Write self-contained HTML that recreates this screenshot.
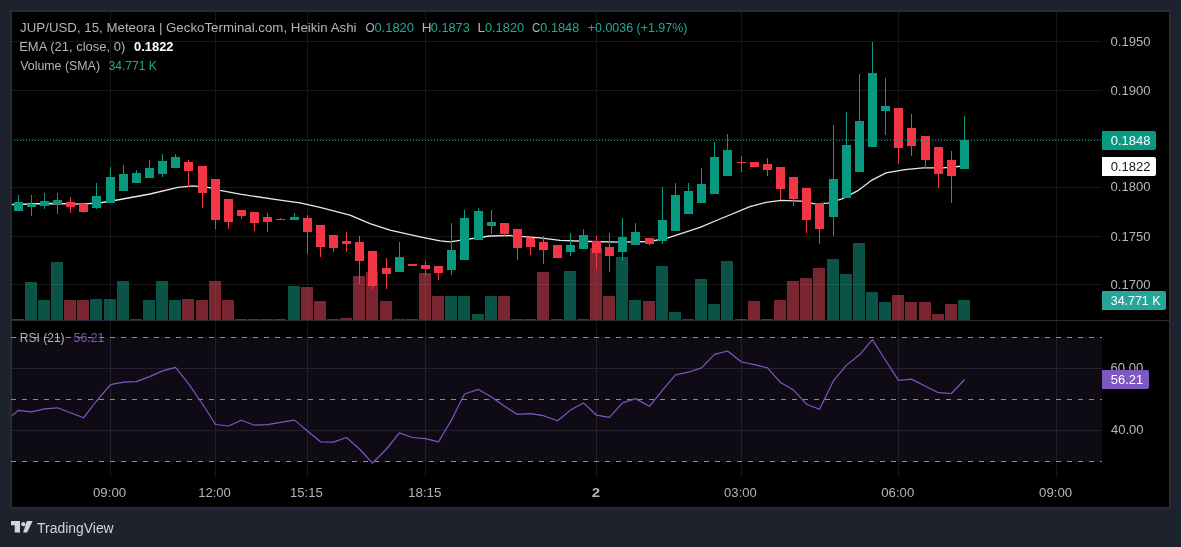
<!DOCTYPE html><html><head><meta charset="utf-8"><style>
html,body{margin:0;padding:0;background:#1e222d;width:1181px;height:547px;overflow:hidden}
svg{display:block;will-change:transform}
text{font-family:"Liberation Sans",sans-serif}
</style></head><body>
<svg width="1181" height="547" viewBox="0 0 1181 547">
<rect x="0" y="0" width="1181" height="547" fill="#1e222d"/>
<rect x="10" y="10" width="1161" height="499" fill="#252933" shape-rendering="crispEdges"/>
<rect x="11" y="11" width="1159" height="497" fill="#2a2e39" shape-rendering="crispEdges"/>
<rect x="12" y="12" width="1157" height="495" fill="#000000" shape-rendering="crispEdges"/>
<g shape-rendering="crispEdges">
<rect x="12" y="337" width="1090" height="125" fill="#0e0b15"/>
<rect x="12" y="41" width="1090" height="1" fill="#171717"/>
<rect x="12" y="90" width="1090" height="1" fill="#171717"/>
<rect x="12" y="139" width="1090" height="1" fill="#171717"/>
<rect x="12" y="187" width="1090" height="1" fill="#171717"/>
<rect x="12" y="236" width="1090" height="1" fill="#171717"/>
<rect x="12" y="284" width="1090" height="1" fill="#171717"/>
<rect x="12" y="368" width="1090" height="1" fill="#24212c"/>
<rect x="12" y="430" width="1090" height="1" fill="#24212c"/>
<rect x="110" y="12" width="1" height="325" fill="#171717"/>
<rect x="110" y="337" width="1" height="125" fill="#24212c"/>
<rect x="110" y="462" width="1" height="15" fill="#171717"/>
<rect x="215" y="12" width="1" height="325" fill="#171717"/>
<rect x="215" y="337" width="1" height="125" fill="#24212c"/>
<rect x="215" y="462" width="1" height="15" fill="#171717"/>
<rect x="307" y="12" width="1" height="325" fill="#171717"/>
<rect x="307" y="337" width="1" height="125" fill="#24212c"/>
<rect x="307" y="462" width="1" height="15" fill="#171717"/>
<rect x="425" y="12" width="1" height="325" fill="#171717"/>
<rect x="425" y="337" width="1" height="125" fill="#24212c"/>
<rect x="425" y="462" width="1" height="15" fill="#171717"/>
<rect x="596" y="12" width="1" height="325" fill="#171717"/>
<rect x="596" y="337" width="1" height="125" fill="#24212c"/>
<rect x="596" y="462" width="1" height="15" fill="#171717"/>
<rect x="741" y="12" width="1" height="325" fill="#171717"/>
<rect x="741" y="337" width="1" height="125" fill="#24212c"/>
<rect x="741" y="462" width="1" height="15" fill="#171717"/>
<rect x="898" y="12" width="1" height="325" fill="#171717"/>
<rect x="898" y="337" width="1" height="125" fill="#24212c"/>
<rect x="898" y="462" width="1" height="15" fill="#171717"/>
<rect x="1056" y="12" width="1" height="325" fill="#171717"/>
<rect x="1056" y="337" width="1" height="125" fill="#24212c"/>
<rect x="1056" y="462" width="1" height="15" fill="#171717"/>
<rect x="12" y="320" width="1157" height="1" fill="#2a2e39"/>
<line x1="11" y1="337.5" x2="1102" y2="337.5" stroke="#8a8d96" stroke-width="1" stroke-dasharray="5 6"/>
<line x1="11" y1="399.5" x2="1102" y2="399.5" stroke="#8a8d96" stroke-width="1" stroke-dasharray="5 6"/>
<line x1="11" y1="461.5" x2="1102" y2="461.5" stroke="#8a8d96" stroke-width="1" stroke-dasharray="5 6"/>
<rect x="12" y="319" width="12" height="1" fill="#16a68e" fill-opacity="0.5"/>
<rect x="25" y="282" width="12" height="38" fill="#16a68e" fill-opacity="0.5"/>
<rect x="38" y="300" width="12" height="20" fill="#16a68e" fill-opacity="0.5"/>
<rect x="51" y="262" width="12" height="58" fill="#16a68e" fill-opacity="0.5"/>
<rect x="64" y="300" width="12" height="20" fill="#f44c60" fill-opacity="0.5"/>
<rect x="77" y="300" width="12" height="20" fill="#f44c60" fill-opacity="0.5"/>
<rect x="90" y="299" width="12" height="21" fill="#16a68e" fill-opacity="0.5"/>
<rect x="104" y="299" width="12" height="21" fill="#16a68e" fill-opacity="0.5"/>
<rect x="117" y="281" width="12" height="39" fill="#16a68e" fill-opacity="0.5"/>
<rect x="130" y="319" width="12" height="1" fill="#16a68e" fill-opacity="0.5"/>
<rect x="143" y="300" width="12" height="20" fill="#16a68e" fill-opacity="0.5"/>
<rect x="156" y="281" width="12" height="39" fill="#16a68e" fill-opacity="0.5"/>
<rect x="169" y="300" width="12" height="20" fill="#16a68e" fill-opacity="0.5"/>
<rect x="182" y="299" width="12" height="21" fill="#f44c60" fill-opacity="0.5"/>
<rect x="196" y="300" width="12" height="20" fill="#f44c60" fill-opacity="0.5"/>
<rect x="209" y="281" width="12" height="39" fill="#f44c60" fill-opacity="0.5"/>
<rect x="222" y="300" width="12" height="20" fill="#f44c60" fill-opacity="0.5"/>
<rect x="235" y="319" width="12" height="1" fill="#f44c60" fill-opacity="0.5"/>
<rect x="248" y="319" width="12" height="1" fill="#f44c60" fill-opacity="0.5"/>
<rect x="261" y="319" width="12" height="1" fill="#f44c60" fill-opacity="0.5"/>
<rect x="274" y="319" width="12" height="1" fill="#f44c60" fill-opacity="0.5"/>
<rect x="288" y="286" width="12" height="34" fill="#16a68e" fill-opacity="0.5"/>
<rect x="301" y="287" width="12" height="33" fill="#f44c60" fill-opacity="0.5"/>
<rect x="314" y="301" width="12" height="19" fill="#f44c60" fill-opacity="0.5"/>
<rect x="327" y="319" width="12" height="1" fill="#f44c60" fill-opacity="0.5"/>
<rect x="340" y="318" width="12" height="2" fill="#f44c60" fill-opacity="0.5"/>
<rect x="353" y="276" width="12" height="44" fill="#f44c60" fill-opacity="0.5"/>
<rect x="366" y="272" width="12" height="48" fill="#f44c60" fill-opacity="0.5"/>
<rect x="380" y="301" width="12" height="19" fill="#f44c60" fill-opacity="0.5"/>
<rect x="393" y="319" width="12" height="1" fill="#16a68e" fill-opacity="0.5"/>
<rect x="406" y="319" width="12" height="1" fill="#f44c60" fill-opacity="0.5"/>
<rect x="419" y="273" width="12" height="47" fill="#f44c60" fill-opacity="0.5"/>
<rect x="432" y="296" width="12" height="24" fill="#f44c60" fill-opacity="0.5"/>
<rect x="445" y="296" width="12" height="24" fill="#16a68e" fill-opacity="0.5"/>
<rect x="458" y="296" width="12" height="24" fill="#16a68e" fill-opacity="0.5"/>
<rect x="472" y="314" width="12" height="6" fill="#16a68e" fill-opacity="0.5"/>
<rect x="485" y="296" width="12" height="24" fill="#16a68e" fill-opacity="0.5"/>
<rect x="498" y="296" width="12" height="24" fill="#f44c60" fill-opacity="0.5"/>
<rect x="511" y="319" width="12" height="1" fill="#f44c60" fill-opacity="0.5"/>
<rect x="524" y="319" width="12" height="1" fill="#f44c60" fill-opacity="0.5"/>
<rect x="537" y="272" width="12" height="48" fill="#f44c60" fill-opacity="0.5"/>
<rect x="551" y="319" width="12" height="1" fill="#f44c60" fill-opacity="0.5"/>
<rect x="564" y="271" width="12" height="49" fill="#16a68e" fill-opacity="0.5"/>
<rect x="577" y="319" width="12" height="1" fill="#16a68e" fill-opacity="0.5"/>
<rect x="590" y="248" width="12" height="72" fill="#f44c60" fill-opacity="0.5"/>
<rect x="603" y="296" width="12" height="24" fill="#f44c60" fill-opacity="0.5"/>
<rect x="616" y="257" width="12" height="63" fill="#16a68e" fill-opacity="0.5"/>
<rect x="629" y="300" width="12" height="20" fill="#16a68e" fill-opacity="0.5"/>
<rect x="643" y="301" width="12" height="19" fill="#f44c60" fill-opacity="0.5"/>
<rect x="656" y="266" width="12" height="54" fill="#16a68e" fill-opacity="0.5"/>
<rect x="669" y="312" width="12" height="8" fill="#16a68e" fill-opacity="0.5"/>
<rect x="682" y="319" width="12" height="1" fill="#16a68e" fill-opacity="0.5"/>
<rect x="695" y="279" width="12" height="41" fill="#16a68e" fill-opacity="0.5"/>
<rect x="708" y="304" width="12" height="16" fill="#16a68e" fill-opacity="0.5"/>
<rect x="721" y="261" width="12" height="59" fill="#16a68e" fill-opacity="0.5"/>
<rect x="735" y="319" width="12" height="1" fill="#f44c60" fill-opacity="0.5"/>
<rect x="748" y="301" width="12" height="19" fill="#f44c60" fill-opacity="0.5"/>
<rect x="761" y="319" width="12" height="1" fill="#f44c60" fill-opacity="0.5"/>
<rect x="774" y="300" width="12" height="20" fill="#f44c60" fill-opacity="0.5"/>
<rect x="787" y="281" width="12" height="39" fill="#f44c60" fill-opacity="0.5"/>
<rect x="800" y="278" width="12" height="42" fill="#f44c60" fill-opacity="0.5"/>
<rect x="813" y="268" width="12" height="52" fill="#f44c60" fill-opacity="0.5"/>
<rect x="827" y="259" width="12" height="61" fill="#16a68e" fill-opacity="0.5"/>
<rect x="840" y="274" width="12" height="46" fill="#16a68e" fill-opacity="0.5"/>
<rect x="853" y="243" width="12" height="77" fill="#16a68e" fill-opacity="0.5"/>
<rect x="866" y="292" width="12" height="28" fill="#16a68e" fill-opacity="0.5"/>
<rect x="879" y="302" width="12" height="18" fill="#16a68e" fill-opacity="0.5"/>
<rect x="892" y="295" width="12" height="25" fill="#f44c60" fill-opacity="0.5"/>
<rect x="905" y="302" width="12" height="18" fill="#f44c60" fill-opacity="0.5"/>
<rect x="919" y="302" width="12" height="18" fill="#f44c60" fill-opacity="0.5"/>
<rect x="932" y="314" width="12" height="6" fill="#f44c60" fill-opacity="0.5"/>
<rect x="945" y="304" width="12" height="16" fill="#f44c60" fill-opacity="0.5"/>
<rect x="958" y="300" width="12" height="20" fill="#16a68e" fill-opacity="0.5"/>
</g><polyline points="12,204.5 50,203.5 83,204.1 102,202.5 120,199.5 150,194 178,187.3 193,185.9 208,187.3 220,190.3 240,194.1 280,200.2 300,202.9 320,207.4 350,215.1 370,223.6 390,230.1 420,236.8 440,240.9 450,241.9 460,240.3 490,236 510,235.6 540,237.9 560,240.3 590,241.5 620,242.2 650,241.5 668,237.9 700,227.3 720,219 750,206.6 766,202.4 781,200.4 801,201.2 815,203.9 828,203.2 842,198.8 858,190.6 872,180.1 886,172.8 905,169.7 923,167.9 943,167.9 964,166" fill="none" stroke="#e8e8ea" stroke-width="1.3" stroke-linejoin="round"/>
<g shape-rendering="crispEdges">
<rect x="18" y="195" width="1" height="16" fill="#089981"/>
<rect x="14" y="202" width="9" height="9" fill="#089981"/>
<rect x="31" y="195" width="1" height="21" fill="#089981"/>
<rect x="27" y="204" width="9" height="3" fill="#089981"/>
<rect x="44" y="193" width="1" height="16" fill="#089981"/>
<rect x="40" y="201" width="9" height="5" fill="#089981"/>
<rect x="57" y="193" width="1" height="21" fill="#089981"/>
<rect x="53" y="200" width="9" height="4" fill="#089981"/>
<rect x="70" y="197" width="1" height="16" fill="#f23645"/>
<rect x="66" y="202" width="9" height="5" fill="#f23645"/>
<rect x="83" y="204" width="1" height="9" fill="#f23645"/>
<rect x="79" y="204" width="9" height="8" fill="#f23645"/>
<rect x="96" y="183" width="1" height="26" fill="#089981"/>
<rect x="92" y="196" width="9" height="12" fill="#089981"/>
<rect x="110" y="167" width="1" height="36" fill="#089981"/>
<rect x="106" y="177" width="9" height="26" fill="#089981"/>
<rect x="123" y="165" width="1" height="26" fill="#089981"/>
<rect x="119" y="174" width="9" height="17" fill="#089981"/>
<rect x="136" y="170" width="1" height="13" fill="#089981"/>
<rect x="132" y="173" width="9" height="10" fill="#089981"/>
<rect x="149" y="160" width="1" height="18" fill="#089981"/>
<rect x="145" y="168" width="9" height="10" fill="#089981"/>
<rect x="162" y="154" width="1" height="23" fill="#089981"/>
<rect x="158" y="161" width="9" height="13" fill="#089981"/>
<rect x="175" y="154" width="1" height="14" fill="#089981"/>
<rect x="171" y="157" width="9" height="11" fill="#089981"/>
<rect x="188" y="160" width="1" height="27" fill="#f23645"/>
<rect x="184" y="162" width="9" height="9" fill="#f23645"/>
<rect x="202" y="166" width="1" height="42" fill="#f23645"/>
<rect x="198" y="166" width="9" height="27" fill="#f23645"/>
<rect x="215" y="179" width="1" height="50" fill="#f23645"/>
<rect x="211" y="179" width="9" height="41" fill="#f23645"/>
<rect x="228" y="199" width="1" height="30" fill="#f23645"/>
<rect x="224" y="199" width="9" height="23" fill="#f23645"/>
<rect x="241" y="210" width="1" height="9" fill="#f23645"/>
<rect x="237" y="210" width="9" height="6" fill="#f23645"/>
<rect x="254" y="212" width="1" height="19" fill="#f23645"/>
<rect x="250" y="212" width="9" height="11" fill="#f23645"/>
<rect x="267" y="213" width="1" height="19" fill="#f23645"/>
<rect x="263" y="217" width="9" height="5" fill="#f23645"/>
<rect x="280" y="218" width="1" height="2" fill="#f23645"/>
<rect x="276" y="219" width="9" height="1" fill="#f23645"/>
<rect x="294" y="213" width="1" height="7" fill="#089981"/>
<rect x="290" y="217" width="9" height="3" fill="#089981"/>
<rect x="307" y="215" width="1" height="39" fill="#f23645"/>
<rect x="303" y="218" width="9" height="14" fill="#f23645"/>
<rect x="320" y="225" width="1" height="32" fill="#f23645"/>
<rect x="316" y="225" width="9" height="22" fill="#f23645"/>
<rect x="333" y="235" width="1" height="17" fill="#f23645"/>
<rect x="329" y="235" width="9" height="13" fill="#f23645"/>
<rect x="346" y="232" width="1" height="20" fill="#f23645"/>
<rect x="342" y="241" width="9" height="3" fill="#f23645"/>
<rect x="359" y="236" width="1" height="48" fill="#f23645"/>
<rect x="355" y="242" width="9" height="19" fill="#f23645"/>
<rect x="372" y="251" width="1" height="38" fill="#f23645"/>
<rect x="368" y="251" width="9" height="35" fill="#f23645"/>
<rect x="386" y="258" width="1" height="31" fill="#f23645"/>
<rect x="382" y="268" width="9" height="6" fill="#f23645"/>
<rect x="399" y="242" width="1" height="30" fill="#089981"/>
<rect x="395" y="257" width="9" height="15" fill="#089981"/>
<rect x="412" y="264" width="1" height="2" fill="#f23645"/>
<rect x="408" y="264" width="9" height="2" fill="#f23645"/>
<rect x="425" y="261" width="1" height="15" fill="#f23645"/>
<rect x="421" y="265" width="9" height="4" fill="#f23645"/>
<rect x="438" y="266" width="1" height="14" fill="#f23645"/>
<rect x="434" y="266" width="9" height="7" fill="#f23645"/>
<rect x="451" y="223" width="1" height="52" fill="#089981"/>
<rect x="447" y="250" width="9" height="20" fill="#089981"/>
<rect x="464" y="210" width="1" height="50" fill="#089981"/>
<rect x="460" y="218" width="9" height="42" fill="#089981"/>
<rect x="478" y="208" width="1" height="32" fill="#089981"/>
<rect x="474" y="211" width="9" height="29" fill="#089981"/>
<rect x="491" y="210" width="1" height="24" fill="#089981"/>
<rect x="487" y="222" width="9" height="4" fill="#089981"/>
<rect x="504" y="223" width="1" height="13" fill="#f23645"/>
<rect x="500" y="223" width="9" height="11" fill="#f23645"/>
<rect x="517" y="229" width="1" height="31" fill="#f23645"/>
<rect x="513" y="229" width="9" height="19" fill="#f23645"/>
<rect x="530" y="236" width="1" height="19" fill="#f23645"/>
<rect x="526" y="238" width="9" height="9" fill="#f23645"/>
<rect x="543" y="236" width="1" height="28" fill="#f23645"/>
<rect x="539" y="242" width="9" height="8" fill="#f23645"/>
<rect x="557" y="245" width="1" height="13" fill="#f23645"/>
<rect x="553" y="245" width="9" height="13" fill="#f23645"/>
<rect x="570" y="233" width="1" height="23" fill="#089981"/>
<rect x="566" y="245" width="9" height="7" fill="#089981"/>
<rect x="583" y="229" width="1" height="20" fill="#089981"/>
<rect x="579" y="235" width="9" height="14" fill="#089981"/>
<rect x="596" y="236" width="1" height="33" fill="#f23645"/>
<rect x="592" y="241" width="9" height="12" fill="#f23645"/>
<rect x="609" y="233" width="1" height="39" fill="#f23645"/>
<rect x="605" y="247" width="9" height="9" fill="#f23645"/>
<rect x="622" y="218" width="1" height="43" fill="#089981"/>
<rect x="618" y="237" width="9" height="15" fill="#089981"/>
<rect x="635" y="223" width="1" height="22" fill="#089981"/>
<rect x="631" y="232" width="9" height="13" fill="#089981"/>
<rect x="649" y="238" width="1" height="7" fill="#f23645"/>
<rect x="645" y="238" width="9" height="6" fill="#f23645"/>
<rect x="662" y="187" width="1" height="57" fill="#089981"/>
<rect x="658" y="220" width="9" height="21" fill="#089981"/>
<rect x="675" y="183" width="1" height="48" fill="#089981"/>
<rect x="671" y="195" width="9" height="36" fill="#089981"/>
<rect x="688" y="183" width="1" height="31" fill="#089981"/>
<rect x="684" y="191" width="9" height="23" fill="#089981"/>
<rect x="701" y="168" width="1" height="35" fill="#089981"/>
<rect x="697" y="184" width="9" height="19" fill="#089981"/>
<rect x="714" y="142" width="1" height="52" fill="#089981"/>
<rect x="710" y="157" width="9" height="37" fill="#089981"/>
<rect x="727" y="134" width="1" height="42" fill="#089981"/>
<rect x="723" y="150" width="9" height="26" fill="#089981"/>
<rect x="741" y="156" width="1" height="16" fill="#f23645"/>
<rect x="737" y="162" width="9" height="1" fill="#f23645"/>
<rect x="754" y="162" width="1" height="5" fill="#f23645"/>
<rect x="750" y="162" width="9" height="5" fill="#f23645"/>
<rect x="767" y="158" width="1" height="18" fill="#f23645"/>
<rect x="763" y="164" width="9" height="6" fill="#f23645"/>
<rect x="780" y="167" width="1" height="33" fill="#f23645"/>
<rect x="776" y="167" width="9" height="22" fill="#f23645"/>
<rect x="793" y="177" width="1" height="29" fill="#f23645"/>
<rect x="789" y="177" width="9" height="22" fill="#f23645"/>
<rect x="806" y="188" width="1" height="45" fill="#f23645"/>
<rect x="802" y="188" width="9" height="32" fill="#f23645"/>
<rect x="819" y="203" width="1" height="41" fill="#f23645"/>
<rect x="815" y="203" width="9" height="26" fill="#f23645"/>
<rect x="833" y="125" width="1" height="111" fill="#089981"/>
<rect x="829" y="179" width="9" height="38" fill="#089981"/>
<rect x="846" y="112" width="1" height="86" fill="#089981"/>
<rect x="842" y="145" width="9" height="53" fill="#089981"/>
<rect x="859" y="74" width="1" height="98" fill="#089981"/>
<rect x="855" y="121" width="9" height="51" fill="#089981"/>
<rect x="872" y="42" width="1" height="105" fill="#089981"/>
<rect x="868" y="73" width="9" height="74" fill="#089981"/>
<rect x="885" y="78" width="1" height="57" fill="#089981"/>
<rect x="881" y="106" width="9" height="5" fill="#089981"/>
<rect x="898" y="108" width="1" height="56" fill="#f23645"/>
<rect x="894" y="108" width="9" height="40" fill="#f23645"/>
<rect x="911" y="114" width="1" height="42" fill="#f23645"/>
<rect x="907" y="128" width="9" height="18" fill="#f23645"/>
<rect x="925" y="136" width="1" height="32" fill="#f23645"/>
<rect x="921" y="136" width="9" height="24" fill="#f23645"/>
<rect x="938" y="147" width="1" height="41" fill="#f23645"/>
<rect x="934" y="147" width="9" height="27" fill="#f23645"/>
<rect x="951" y="151" width="1" height="52" fill="#f23645"/>
<rect x="947" y="160" width="9" height="16" fill="#f23645"/>
<rect x="964" y="116" width="1" height="53" fill="#089981"/>
<rect x="960" y="140" width="9" height="29" fill="#089981"/>
</g>
<line x1="14" y1="140.5" x2="1102" y2="140.5" stroke="#089981" stroke-width="1" stroke-dasharray="1 2" shape-rendering="crispEdges"/>
<polyline points="12.0,415.6 18.5,410.3 31.5,411.9 44.5,408.8 57.5,407.8 70.5,412.8 83.5,417.8 96.5,401.0 110.5,384.7 123.5,382.1 136.5,381.6 149.5,376.6 162.5,370.9 175.5,367.3 188.5,383.7 202.5,404.0 215.5,424.5 228.5,426.0 241.5,420.2 254.5,425.2 267.5,424.7 280.5,422.4 294.5,420.1 307.5,431.0 320.5,441.8 333.5,442.1 346.5,437.5 359.5,449.0 372.5,463.1 386.5,449.0 399.5,432.9 412.5,437.5 425.5,438.7 438.5,441.8 451.5,420.1 464.5,394.0 478.5,389.4 491.5,397.0 504.5,406.3 517.5,414.4 530.5,413.7 543.5,415.7 557.5,420.8 570.5,410.1 583.5,402.9 596.5,415.2 609.5,417.3 622.5,402.9 635.5,398.6 649.5,406.3 662.5,390.1 675.5,374.8 688.5,372.2 701.5,367.9 714.5,354.3 727.5,351.0 741.5,362.0 754.5,364.6 767.5,367.9 780.5,382.5 793.5,390.1 806.5,404.2 819.5,409.3 833.5,380.7 846.5,365.1 859.5,354.8 872.5,339.7 885.5,360.2 898.5,380.4 911.5,379.1 925.5,386.3 938.5,392.7 951.5,393.5 964.5,379.5" fill="none" stroke="#7e57c2" stroke-width="1.2" stroke-linejoin="round"/>
<text transform="translate(1110.49 45.50) scale(1.0908 1)" font-size="12" fill="#b2b5be" font-weight="normal">0.1950</text>
<text transform="translate(1110.49 94.80) scale(1.0908 1)" font-size="12" fill="#b2b5be" font-weight="normal">0.1900</text>
<text transform="translate(1110.49 191.40) scale(1.0908 1)" font-size="12" fill="#b2b5be" font-weight="normal">0.1800</text>
<text transform="translate(1110.49 240.50) scale(1.0908 1)" font-size="12" fill="#b2b5be" font-weight="normal">0.1750</text>
<text transform="translate(1110.49 288.80) scale(1.0908 1)" font-size="12" fill="#b2b5be" font-weight="normal">0.1700</text>
<text transform="translate(1110.58 372.20) scale(1.0937 1)" font-size="12" fill="#b2b5be" font-weight="normal">60.00</text>
<text transform="translate(1111.00 433.50) scale(1.0798 1)" font-size="12" fill="#b2b5be" font-weight="normal">40.00</text>
<text transform="translate(92.99 497.10) scale(1.0188 1)" font-size="13" fill="#b2b5be" font-weight="normal">09:00</text>
<text transform="translate(198.18 497.10) scale(1.0065 1)" font-size="13" fill="#b2b5be" font-weight="normal">12:00</text>
<text transform="translate(290.08 497.10) scale(1.0067 1)" font-size="13" fill="#b2b5be" font-weight="normal">15:15</text>
<text transform="translate(407.96 497.10) scale(1.0323 1)" font-size="13" fill="#b2b5be" font-weight="normal">18:15</text>
<text transform="translate(724.09 497.10) scale(1.0062 1)" font-size="13" fill="#b2b5be" font-weight="normal">03:00</text>
<text transform="translate(881.29 497.10) scale(1.0125 1)" font-size="13" fill="#b2b5be" font-weight="normal">06:00</text>
<text transform="translate(1039.09 497.10) scale(1.0188 1)" font-size="13" fill="#b2b5be" font-weight="normal">09:00</text>
<text transform="translate(591.63 497.00) scale(1.1538 1)" font-size="13" fill="#b2b5be" font-weight="bold">2</text>
<text transform="translate(20.09 31.80) scale(1.0641 1)" font-size="12.5" fill="#b2b5be" font-weight="normal">JUP/USD, 15, Meteora | GeckoTerminal.com, Heikin Ashi</text>
<text transform="translate(365.45 31.80) scale(0.9425 1)" font-size="12.5" fill="#b2b5be" font-weight="normal">O</text>
<text transform="translate(374.40 31.80) scale(1.0365 1)" font-size="12.5" fill="#22ab94" font-weight="normal">0.1820</text>
<text transform="translate(421.74 31.80) scale(1.0809 1)" font-size="12.5" fill="#b2b5be" font-weight="normal">H</text>
<text transform="translate(430.80 31.80) scale(1.0205 1)" font-size="12.5" fill="#22ab94" font-weight="normal">0.1873</text>
<text transform="translate(477.45 31.80) scale(1.0770 1)" font-size="12.5" fill="#b2b5be" font-weight="normal">L</text>
<text transform="translate(484.90 31.80) scale(1.0285 1)" font-size="12.5" fill="#22ab94" font-weight="normal">0.1820</text>
<text transform="translate(532.07 31.80) scale(0.9116 1)" font-size="12.5" fill="#b2b5be" font-weight="normal">C</text>
<text transform="translate(540.30 31.80) scale(1.0178 1)" font-size="12.5" fill="#22ab94" font-weight="normal">0.1848</text>
<text transform="translate(587.72 31.80) scale(0.9976 1)" font-size="12.5" fill="#22ab94" font-weight="normal">+0.0036 (+1.97%)</text>
<text transform="translate(19.18 51.00) scale(1.0396 1)" font-size="12.5" fill="#b2b5be" font-weight="normal">EMA (21, close, 0)</text>
<text transform="translate(134.00 51.00) scale(1.0338 1)" font-size="12.5" fill="#ffffff" font-weight="bold">0.1822</text>
<text transform="translate(20.20 69.70) scale(0.9908 1)" font-size="12.5" fill="#b2b5be" font-weight="normal">Volume (SMA)</text>
<text transform="translate(108.62 69.70) scale(0.9633 1)" font-size="12.5" fill="#22ab94" font-weight="normal">34.771 K</text>
<text transform="translate(19.86 341.50) scale(1.0019 1)" font-size="12" fill="#b2b5be" font-weight="normal">RSI (21)</text>
<text transform="translate(73.62 341.50) scale(1.0217 1)" font-size="12" fill="#7e57c2" font-weight="normal">56.21</text>
<text transform="translate(37.08 532.60) scale(0.9949 1)" font-size="14" fill="#d1d4dc" font-weight="normal">TradingView</text>
<path d="M1102 131h52a2 2 0 0 1 2 2v15a2 2 0 0 1 -2 2h-52z" fill="#089981"/>
<path d="M1102 157h52a2 2 0 0 1 2 2v15a2 2 0 0 1 -2 2h-52z" fill="#ffffff"/>
<path d="M1102 291h62a2 2 0 0 1 2 2v15a2 2 0 0 1 -2 2h-62z" fill="#26a69a"/>
<path d="M1102 370h45a2 2 0 0 1 2 2v15a2 2 0 0 1 -2 2h-45z" fill="#7e57c2"/>
<text transform="translate(1110.69 144.90) scale(1.0881 1)" font-size="12" fill="#ffffff" font-weight="normal">0.1848</text>
<text transform="translate(1110.69 170.50) scale(1.0881 1)" font-size="12" fill="#131722" font-weight="normal">0.1822</text>
<text transform="translate(1110.71 304.80) scale(1.0392 1)" font-size="12" fill="#ffffff" font-weight="normal">34.771 K</text>
<text transform="translate(1110.80 383.90) scale(1.0765 1)" font-size="12" fill="#ffffff" font-weight="normal">56.21</text>
<g fill="#d1d4dc">
<path d="M11 521h9v11.5h-5.3v-7.3H11z"/>
<circle cx="23.3" cy="524.2" r="2.1"/>
<path d="M26.8 521h5.8l-5.5 11.5h-4z"/>
</g>
</svg></body></html>
